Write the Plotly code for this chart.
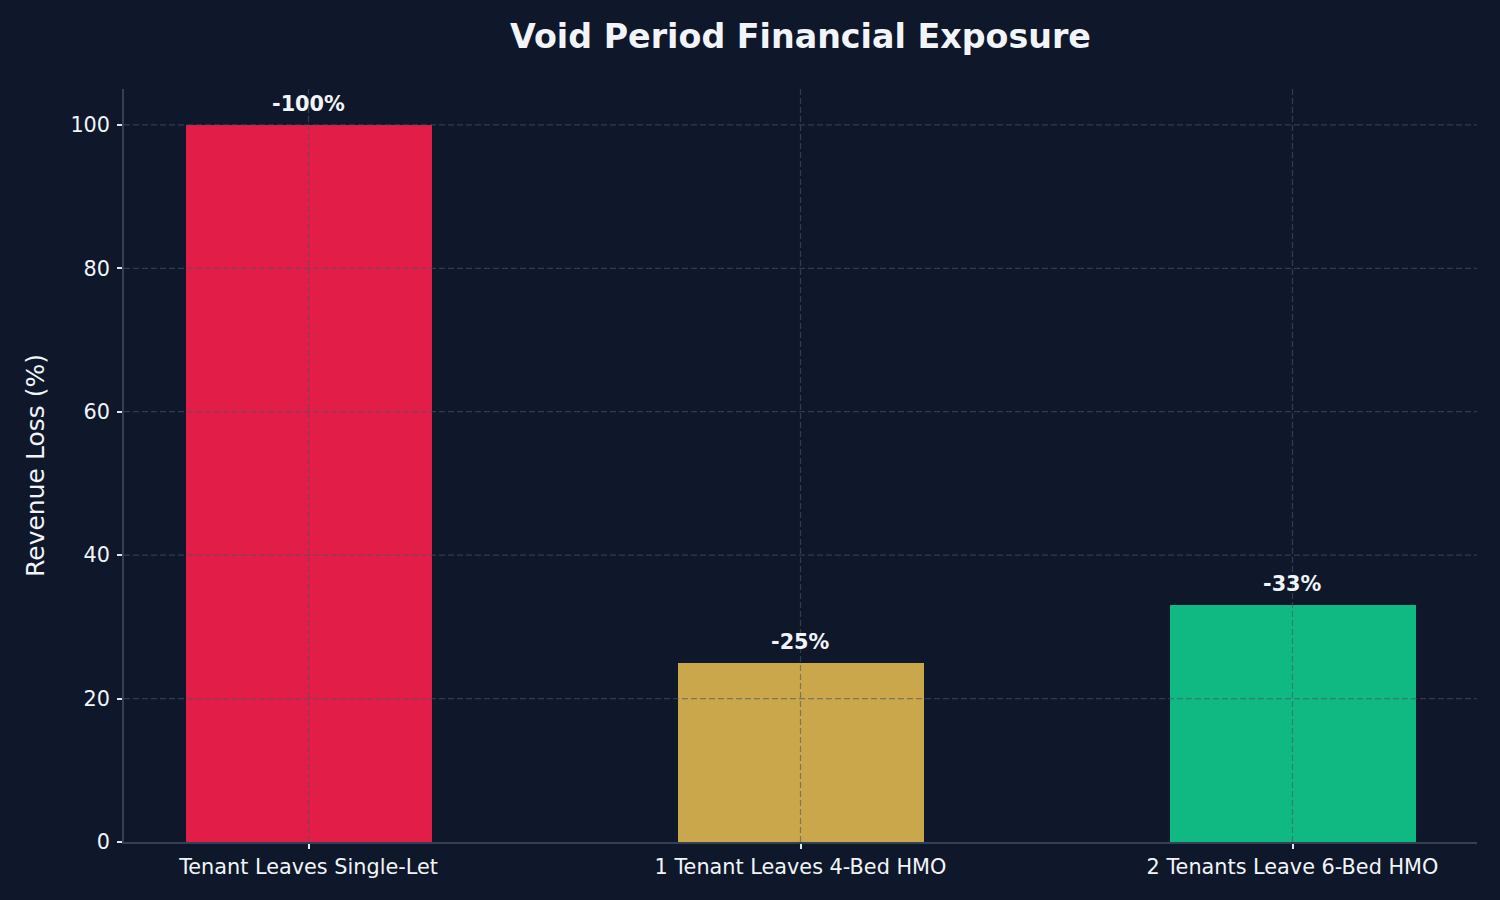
import plotly.graph_objects as go

categories = ["Tenant Leaves Single-Let", "1 Tenant Leaves 4-Bed HMO", "2 Tenants Leave 6-Bed HMO"]
values = [100, 25, 33]
labels = ["-100%", "-25%", "-33%"]
colors = ["#e11d48", "#c9a74a", "#10b981"]
yticks = [0, 20, 40, 60, 80, 100]

BG = "#0f172a"
TXT = "#f1f5f9"
AX = "#334155"
GRID = "rgba(71,85,105,0.6)"
FONT = "DejaVu Sans"

fig = go.Figure()
fig.add_trace(go.Bar(
    x=list(range(len(categories))), y=values, marker=dict(color=colors, line=dict(width=0)),
    width=0.5, hoverinfo="skip", showlegend=False,
))

shapes = []
for t in yticks[1:]:
    shapes.append(dict(type="line", xref="paper", yref="y", x0=0, x1=1, y0=t, y1=t,
                       line=dict(color=GRID, width=1.2, dash="6px,3px"), layer="above"))
for i in range(len(categories)):
    shapes.append(dict(type="line", xref="x", yref="paper", x0=i, x1=i, y0=0, y1=1,
                       line=dict(color=GRID, width=1.2, dash="6px,3px"), layer="above"))

annotations = []
for i, (v, lab) in enumerate(zip(values, labels)):
    annotations.append(dict(x=i, y=v, text="<b>%s</b>" % lab, showarrow=False,
                            yanchor="bottom", yshift=7,
                            font=dict(family=FONT, size=20.8, color=TXT)))

fig.update_layout(
    width=1500, height=900,
    paper_bgcolor=BG, plot_bgcolor=BG,
    margin=dict(l=124, r=23, t=89, b=58),
    font=dict(family=FONT, color=TXT),
    title=dict(text="<b>Void Period Financial Exposure</b>", x=(124 + 1477) / 2 / 1500, xanchor="center",
               y=1 - 36 / 900, yanchor="middle", font=dict(family=FONT, size=33.3, color=TXT)),
    bargap=0,
    shapes=shapes,
    annotations=annotations,
)
fig.update_xaxes(
    range=[-0.375, 2.375], tickmode="array", tickvals=list(range(len(categories))), ticktext=categories,
    showgrid=False, zeroline=False, showline=True, linecolor=AX, linewidth=1.5,
    ticks="outside", ticklen=5, tickcolor="#e2e8f0", tickwidth=1.5,
    tickfont=dict(family=FONT, size=20.8, color=TXT),
)
fig.update_yaxes(
    range=[0, 105], tickmode="array", tickvals=yticks,
    showgrid=False, zeroline=False, showline=True, linecolor=AX, linewidth=1.5,
    ticks="outside", ticklen=5, tickcolor="#e2e8f0", tickwidth=1.5, ticklabelstandoff=3,
    tickfont=dict(family=FONT, size=20.8, color=TXT),
    title=dict(text="Revenue Loss (%)", font=dict(family=FONT, size=25, color=TXT), standoff=19),
)

fig.write_html("out.html")
